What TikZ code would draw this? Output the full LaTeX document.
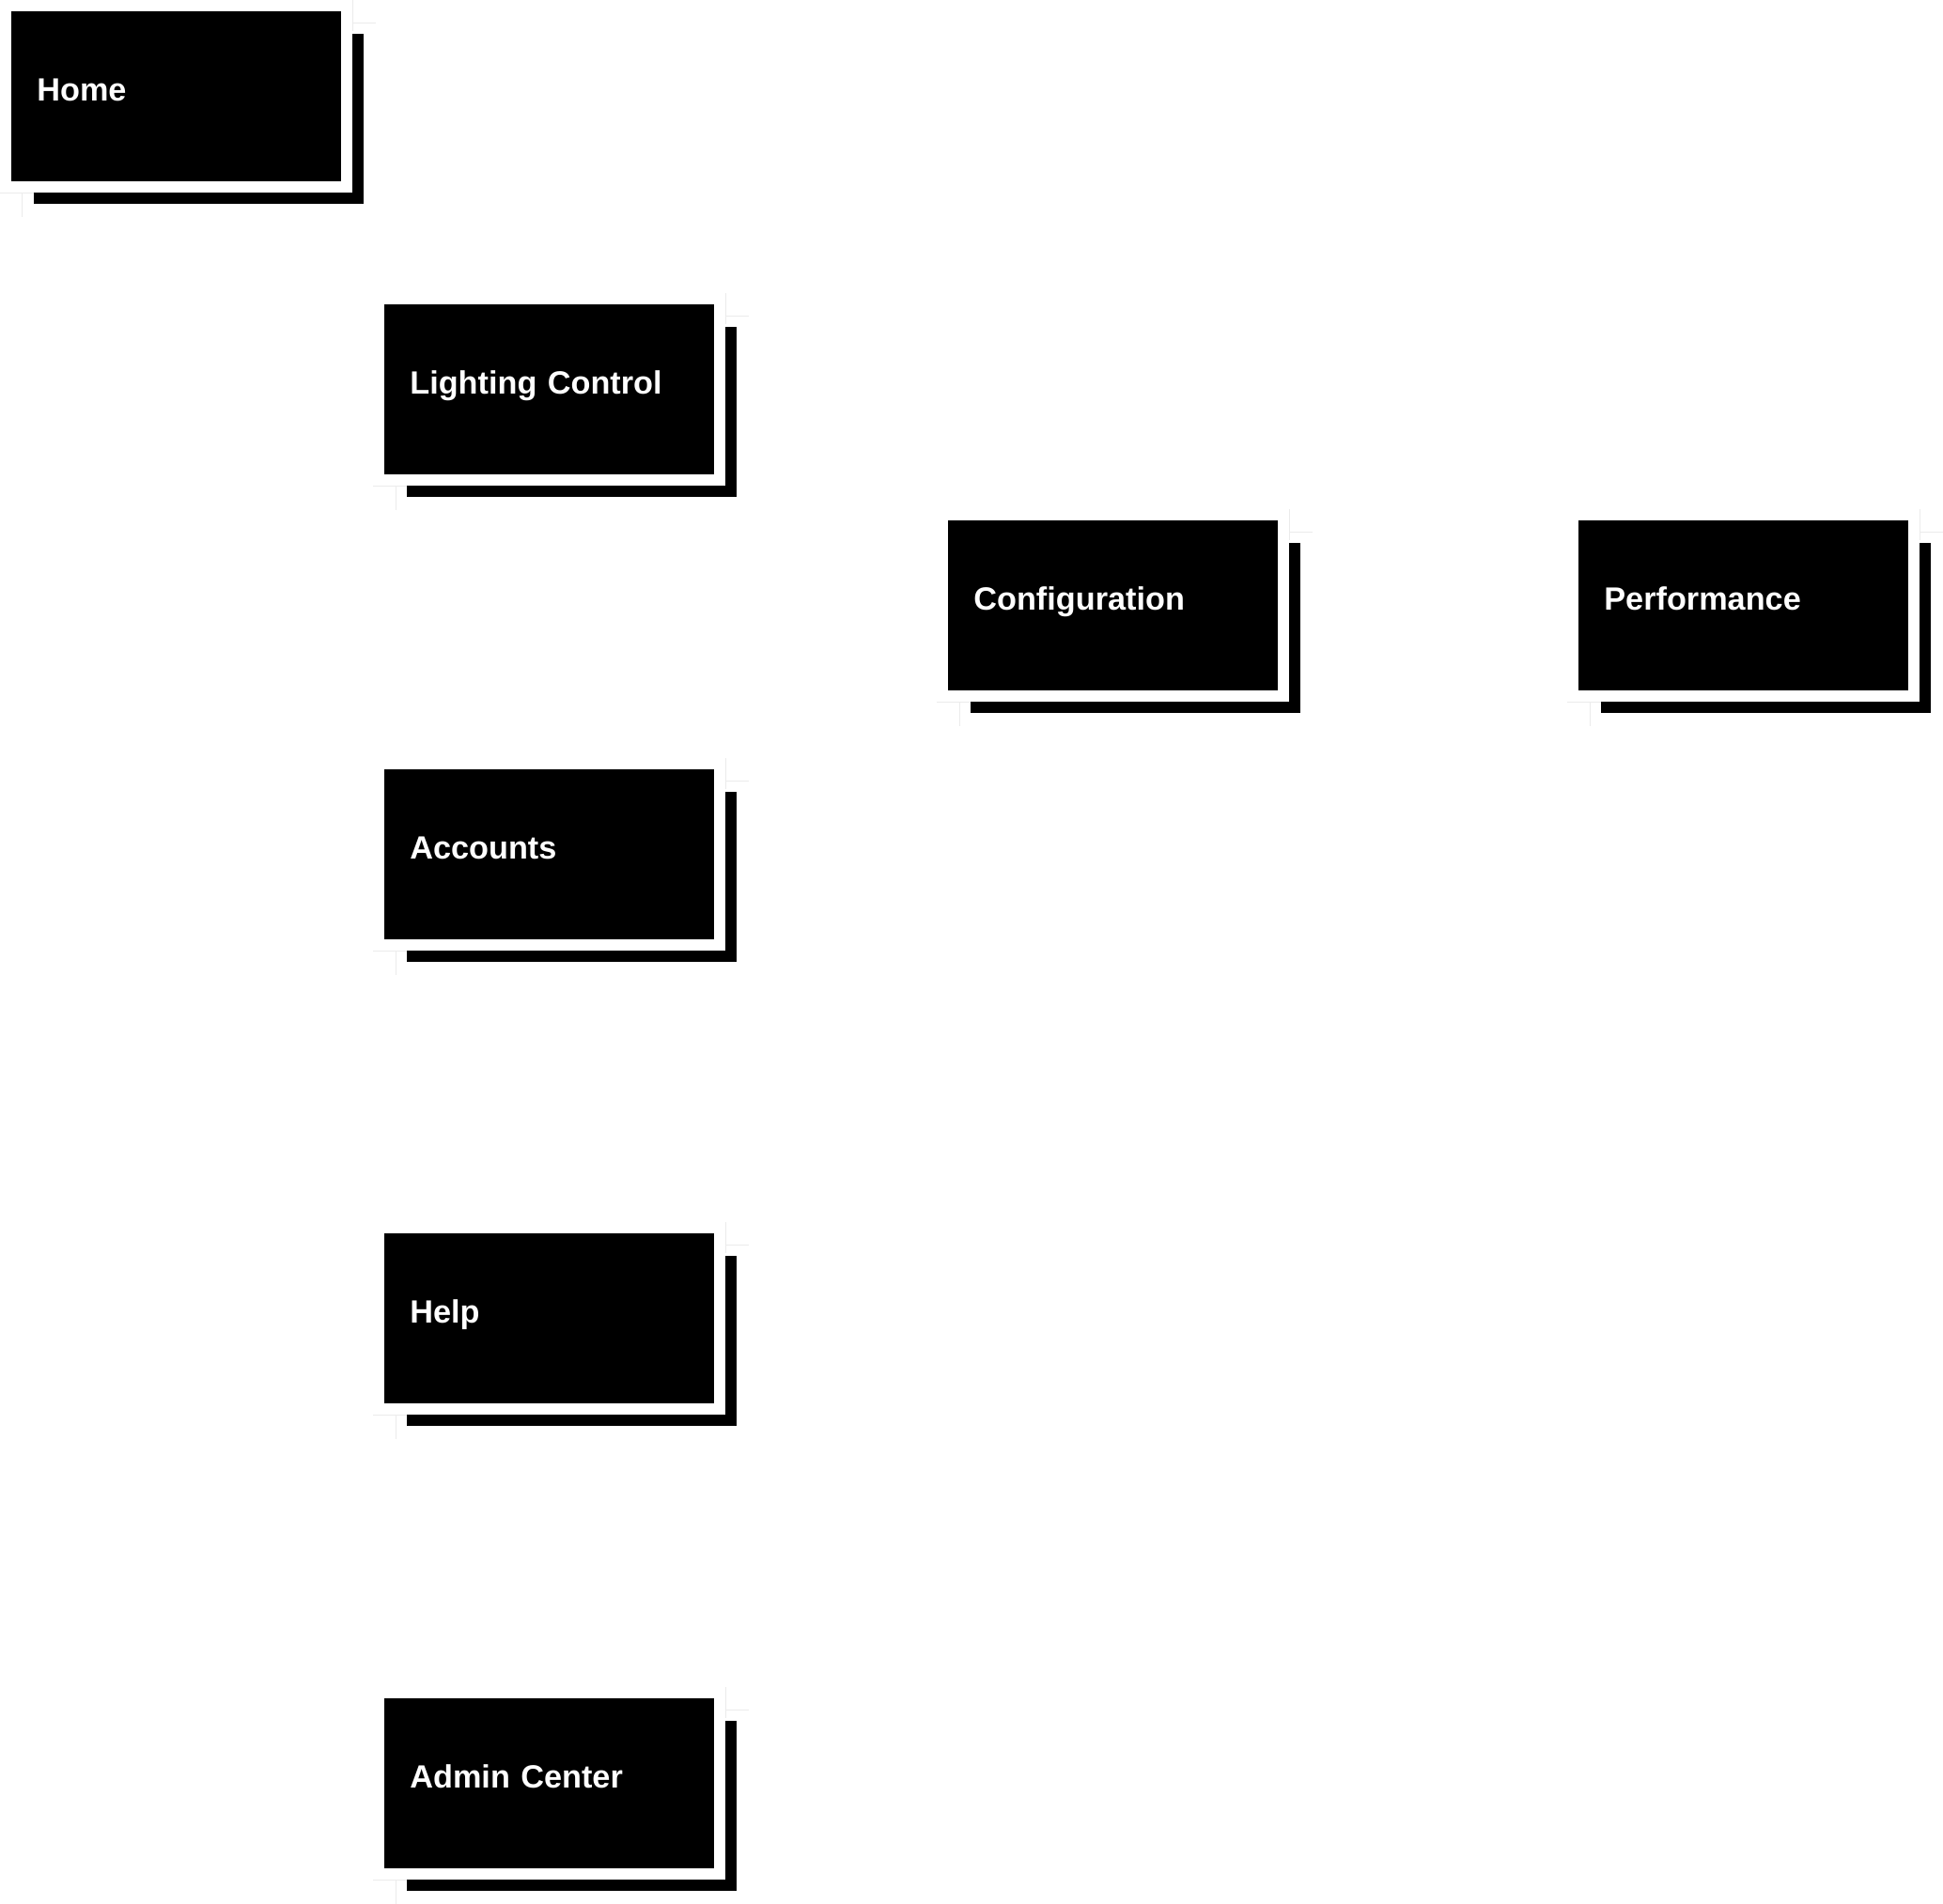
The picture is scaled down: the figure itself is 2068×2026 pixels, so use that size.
\documentclass[tikz,border=0pt]{standalone}
\usepackage{fontspec}
\setmainfont[WordSpace=0.7]{Liberation Sans}
\usetikzlibrary{shadows}

\begin{document}
\begin{tikzpicture}[
        x=0.02cm, y=-0.02cm,
        pageNode/.style={rectangle, fill=black, text=white, anchor=north west,
            inner xsep=0.54cm, inner ysep=0pt, text width=5.94cm, align=left,
            minimum height=3.62cm, text height=0.4cm, text depth=0.208cm,
            font=\bfseries\fontsize{19.5}{23}\selectfont,
            general shadow={fill=black, shadow xshift=0.48cm, shadow yshift=-0.48cm},
            general shadow={fill=white, shadow xshift=0.24cm, shadow yshift=-0.24cm}},
        cropMark/.style={draw=black!8, line width=0.02cm}
    ]
        \useasboundingbox (0,0) rectangle (2068,2026);

        % Page boxes
        \node[pageNode] (home) at (12,12) {Home};
        \node[pageNode] (lighting) at (409,324) {Lighting Control};
        \node[pageNode] (accounts) at (409,819) {Accounts};
        \node[pageNode] (help) at (409,1313) {Help};
        \node[pageNode] (admin) at (409,1808) {Admin Center};
        \node[pageNode] (config) at (1009,554) {Configuration};
        \node[pageNode] (perf) at (1680,554) {Performance};

        % Faint corner marks
        \foreach \n in {home, lighting, accounts, help, admin, config, perf} {
            \draw[cropMark] ([shift={(0.24cm,0.24cm)}]\n.north east) -- ([shift={(0.24cm,-0.42cm)}]\n.north east);
            \draw[cropMark] ([shift={(0.24cm,-0.24cm)}]\n.north east) -- ([shift={(0.72cm,-0.24cm)}]\n.north east);
            \draw[cropMark] ([shift={(-0.24cm,-0.24cm)}]\n.south west) -- ([shift={(0.48cm,-0.24cm)}]\n.south west);
            \draw[cropMark] ([shift={(0.24cm,-0.24cm)}]\n.south west) -- ([shift={(0.24cm,-0.74cm)}]\n.south west);
        }
    \end{tikzpicture}
\end{document}
